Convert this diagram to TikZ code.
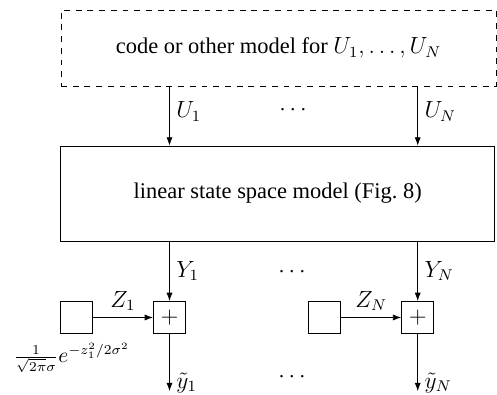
\documentclass[tikz,border=0pt]{standalone}
\usepackage{fontspec}
\setmainfont{Liberation Serif}
\usepackage{tikz}
\usetikzlibrary{arrows.meta, positioning}

\begin{document}
\begin{tikzpicture}[
    font=\fontsize{11.5}{14}\selectfont,
    modelbox/.style={draw, minimum width=7.81cm, minimum height=1.71cm, align=center},
    srcbox/.style={draw, dashed, minimum width=7.83cm, minimum height=1.37cm, align=center},
    sumbox/.style={draw, minimum width=0.58cm, minimum height=0.58cm, inner sep=0pt},
    noisebox/.style={draw, minimum width=0.58cm, minimum height=0.58cm, inner sep=0pt},
    sig/.style={-{Latex[length=1.5mm, width=1.1mm]}}
]
    \useasboundingbox (0,0) rectangle (8.946,-7.11);

    % Blocks
    \node[srcbox] (src) at (5.013,-0.864) {code or other model for $U_1,\ldots,U_N$};
    \node[modelbox] (lssm) at (5.0,-3.483) {linear state space model (Fig.~8)};
    \node[sumbox] (add1) at (3.051,-5.715) {$+$};
    \node[sumbox] (addN) at (7.519,-5.715) {$+$};
    \node[noisebox] (noise1) at (1.373,-5.715) {};
    \node[noisebox] (noiseN) at (5.841,-5.715) {};
    \node[below=0.15cm of noise1, xshift=-0.08cm, inner sep=0pt, font=\fontsize{10.5}{12}\selectfont] (dens1) {$\frac{1}{\sqrt{2\pi}\sigma}e^{-z_1^2/2\sigma^2}$};
    \coordinate (out1) at (3.051,-7.04);
    \coordinate (outN) at (7.519,-7.04);

    % Dots
    \node (dotsU) at (5.274,-1.98) {$\cdots$};
    \node (dotsY) at (5.256,-4.896) {$\cdots$};
    \node (dotsy) at (5.256,-6.786) {$\cdots$};

    % Signals
    \draw[sig] (src.south -| add1) -- node[right, pos=0.42] {$U_1$} (lssm.north -| add1);
    \draw[sig] (src.south -| addN) -- node[right, pos=0.42] {$U_N$} (lssm.north -| addN);
    \draw[sig] (lssm.south -| add1) -- node[right] {$Y_1$} (add1);
    \draw[sig] (lssm.south -| addN) -- node[right] {$Y_N$} (addN);
    \draw[sig] (noise1) -- node[above] {$Z_1$} (add1);
    \draw[sig] (noiseN) -- node[above] {$Z_N$} (addN);
    \draw[sig] (add1) -- node[right, pos=0.85] {$\tilde{y}_1$} (out1);
    \draw[sig] (addN) -- node[right, pos=0.85] {$\tilde{y}_N$} (outN);
\end{tikzpicture}
\end{document}
